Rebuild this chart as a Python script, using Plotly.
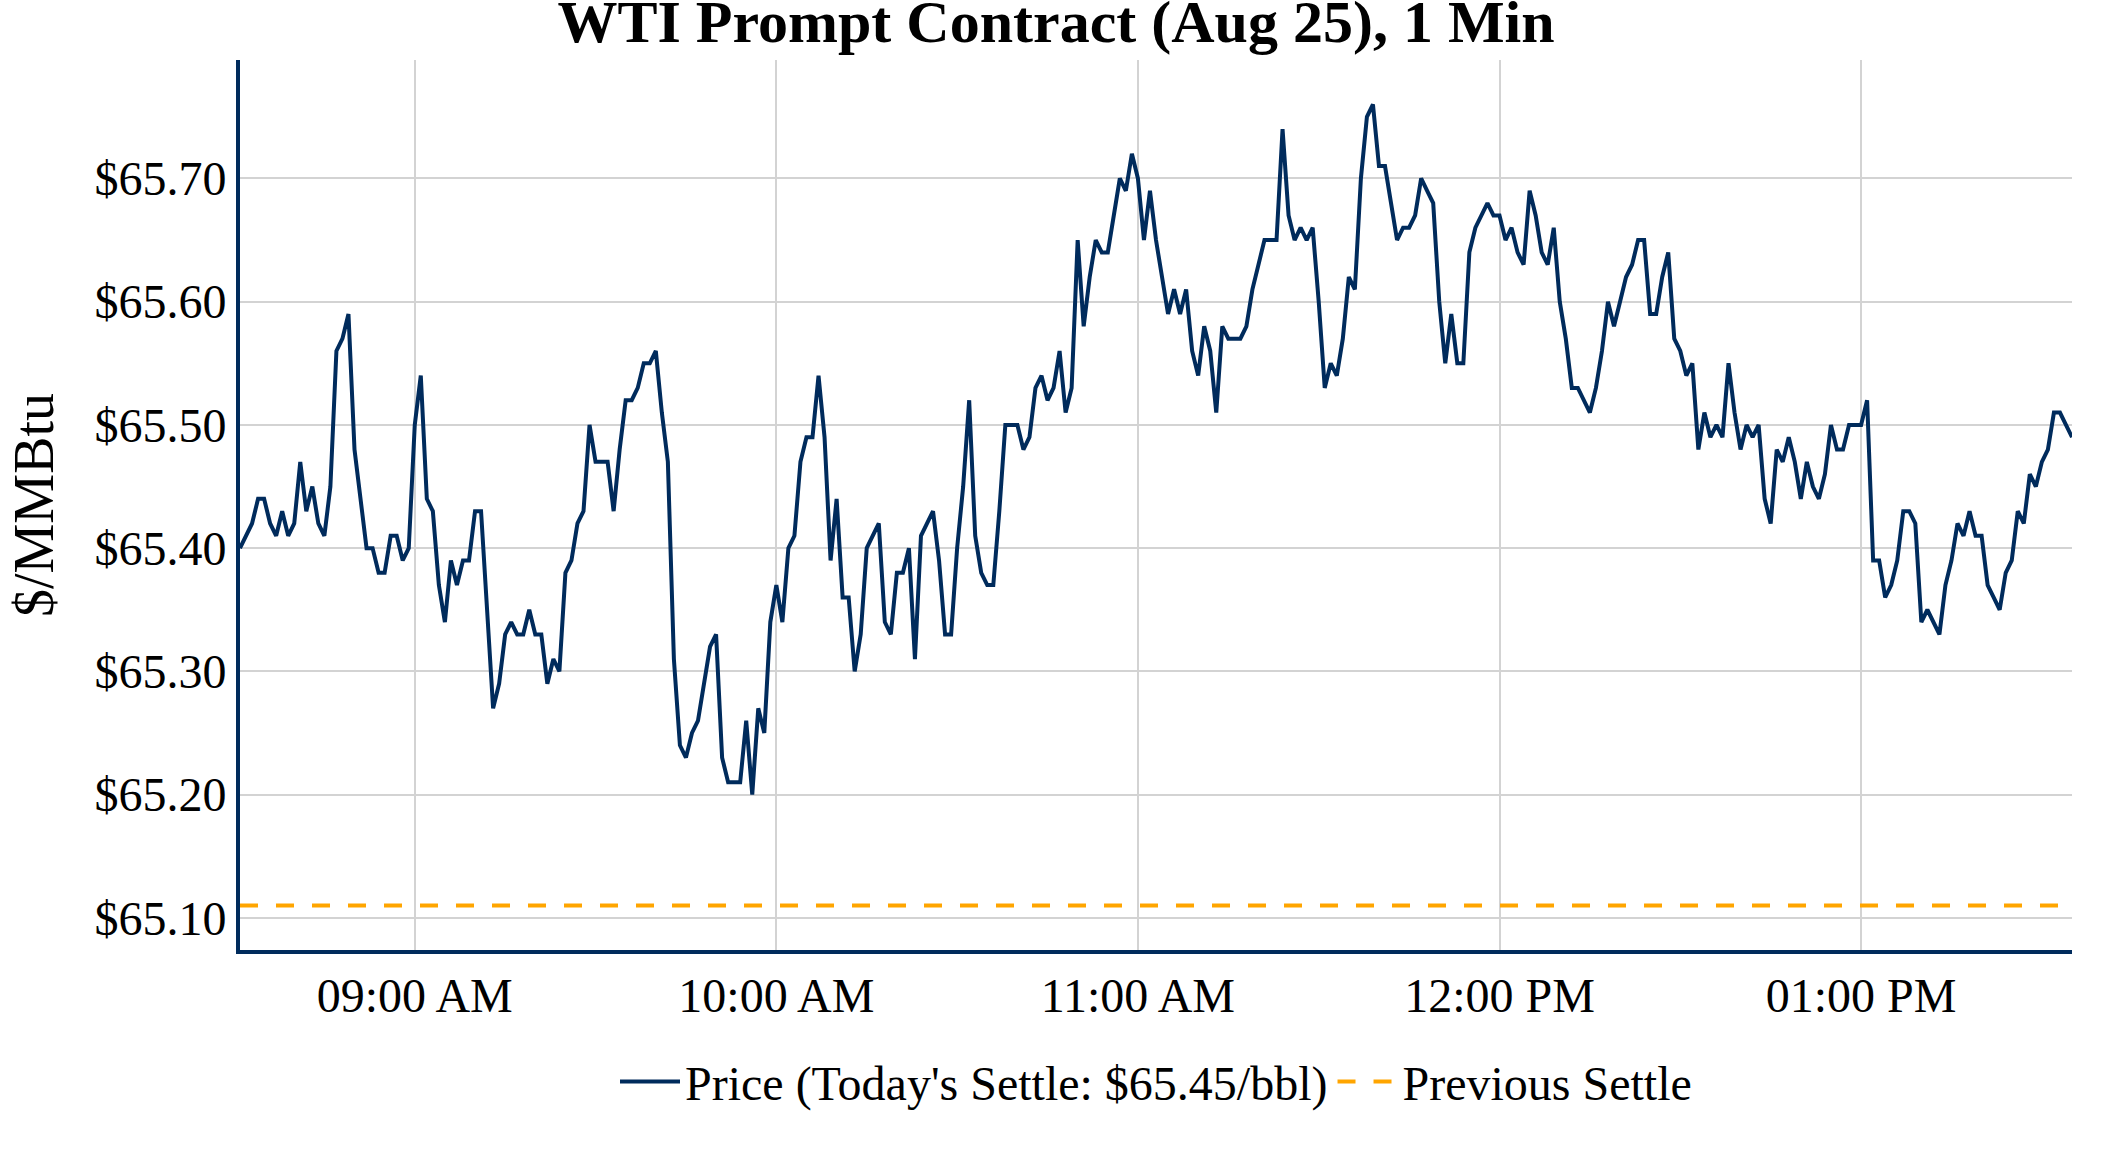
import pandas as pd
import plotly.graph_objects as go

# ── Datos: precio WTI minuto a minuto (sesión del día) ────────────
fecha = "2025-07-15"
inicio = "08:31"

precios_0831_0859 = [
    65.40, 65.41, 65.42, 65.44, 65.44, 65.42, 65.41, 65.43, 65.41, 65.42,
    65.47, 65.43, 65.45, 65.42, 65.41, 65.45, 65.56, 65.57, 65.59, 65.48,
    65.44, 65.40, 65.40, 65.38, 65.38, 65.41, 65.41, 65.39, 65.40,
]
precios_09 = [
    65.50, 65.54, 65.44, 65.43, 65.37, 65.34, 65.39, 65.37, 65.39, 65.39,
    65.43, 65.43, 65.35, 65.27, 65.29, 65.33, 65.34, 65.33, 65.33, 65.35,
    65.33, 65.33, 65.29, 65.31, 65.30, 65.38, 65.39, 65.42, 65.43, 65.50,
    65.47, 65.47, 65.47, 65.43, 65.48, 65.52, 65.52, 65.53, 65.55, 65.55,
    65.56, 65.51, 65.47, 65.31, 65.24, 65.23, 65.25, 65.26, 65.29, 65.32,
    65.33, 65.23, 65.21, 65.21, 65.21, 65.26, 65.20, 65.27, 65.25, 65.34,
]
precios_10 = [
    65.37, 65.34, 65.40, 65.41, 65.47, 65.49, 65.49, 65.54, 65.49, 65.39,
    65.44, 65.36, 65.36, 65.30, 65.33, 65.40, 65.41, 65.42, 65.34, 65.33,
    65.38, 65.38, 65.40, 65.31, 65.41, 65.42, 65.43, 65.39, 65.33, 65.33,
    65.40, 65.45, 65.52, 65.41, 65.38, 65.37, 65.37, 65.43, 65.50, 65.50,
    65.50, 65.48, 65.49, 65.53, 65.54, 65.52, 65.53, 65.56, 65.51, 65.53,
    65.65, 65.58, 65.62, 65.65, 65.64, 65.64, 65.67, 65.70, 65.69, 65.72,
]
precios_11 = [
    65.70, 65.65, 65.69, 65.65, 65.62, 65.59, 65.61, 65.59, 65.61, 65.56,
    65.54, 65.58, 65.56, 65.51, 65.58, 65.57, 65.57, 65.57, 65.58, 65.61,
    65.63, 65.65, 65.65, 65.65, 65.74, 65.67, 65.65, 65.66, 65.65, 65.66,
    65.60, 65.53, 65.55, 65.54, 65.57, 65.62, 65.61, 65.70, 65.75, 65.76,
    65.71, 65.71, 65.68, 65.65, 65.66, 65.66, 65.67, 65.70, 65.69, 65.68,
    65.60, 65.55, 65.59, 65.55, 65.55, 65.64, 65.66, 65.67, 65.68, 65.67,
]
precios_12 = [
    65.67, 65.65, 65.66, 65.64, 65.63, 65.69, 65.67, 65.64, 65.63, 65.66,
    65.60, 65.57, 65.53, 65.53, 65.52, 65.51, 65.53, 65.56, 65.60, 65.58,
    65.60, 65.62, 65.63, 65.65, 65.65, 65.59, 65.59, 65.62, 65.64, 65.57,
    65.56, 65.54, 65.55, 65.48, 65.51, 65.49, 65.50, 65.49, 65.55, 65.51,
    65.48, 65.50, 65.49, 65.50, 65.44, 65.42, 65.48, 65.47, 65.49, 65.47,
    65.44, 65.47, 65.45, 65.44, 65.46, 65.50, 65.48, 65.48, 65.50, 65.50,
]
precios_13 = [
    65.50, 65.52, 65.39, 65.39, 65.36, 65.37, 65.39, 65.43, 65.43, 65.42,
    65.34, 65.35, 65.34, 65.33, 65.37, 65.39, 65.42, 65.41, 65.43, 65.41,
    65.41, 65.37, 65.36, 65.35, 65.38, 65.39, 65.43, 65.42, 65.46, 65.45,
    65.47, 65.48, 65.51, 65.51, 65.50, 65.49,
]

settle_hoy = 65.45
settle_anterior = 65.11

precios = precios_0831_0859 + precios_09 + precios_10 + precios_11 + precios_12 + precios_13
horas = pd.date_range(f"{fecha} {inicio}", periods=len(precios), freq="min")

AZUL = "#002B5C"
NARANJA = "#FFA500"
FUENTE = "Liberation Serif, Times New Roman, serif"

fig = go.Figure()

fig.add_trace(
    go.Scatter(
        x=horas, y=precios,
        name=f"Price (Today's Settle: ${settle_hoy:.2f}/bbl)",
        mode="lines",
        line=dict(color=AZUL, width=4),
    )
)

# Línea horizontal del settle anterior
fig.add_trace(
    go.Scatter(
        x=[horas[0], horas[-1]], y=[settle_anterior, settle_anterior],
        name="Previous Settle",
        mode="lines",
        line=dict(color=NARANJA, width=4, dash="18px,18px"),
    )
)

fig.update_layout(
    width=2112,
    height=1152,
    margin=dict(l=240, r=40, t=60, b=202),
    paper_bgcolor="white",
    plot_bgcolor="white",
    font=dict(family=FUENTE, size=48, color="black"),
    title=dict(
        text="<b>WTI Prompt Contract (Aug 25), 1 Min</b>",
        x=0.5, xanchor="center",
        y=1.0, yanchor="top", yref="container",
        font=dict(family=FUENTE, size=60, color="black"),
    ),
    legend=dict(
        orientation="h",
        x=0.5, xanchor="center",
        y=-0.148, yanchor="middle",
        itemwidth=60,
        font=dict(family=FUENTE, size=48, color="black"),
    ),
    xaxis=dict(
        type="date",
        tickformat="%I:%M %p",
        dtick=3600000,
        tick0=f"{fecha} 09:00",
        showgrid=True, gridcolor="lightgray", gridwidth=2,
        showline=True, linecolor=AZUL, linewidth=4,
        zeroline=False,
    ),
    yaxis=dict(
        title=dict(text="$/MMBtu", standoff=24,
                   font=dict(family=FUENTE, size=56, color="black")),
        tickformat="$.2f",
        dtick=0.1,
        showgrid=True, gridcolor="lightgray", gridwidth=2,
        showline=True, linecolor=AZUL, linewidth=4,
        zeroline=False,
    ),
)

# Sin margen del body para que la figura ocupe la ventana completa
fig.write_html(
    "out.html",
    config={"displayModeBar": False},
    post_script="document.body.style.margin='0';",
)
